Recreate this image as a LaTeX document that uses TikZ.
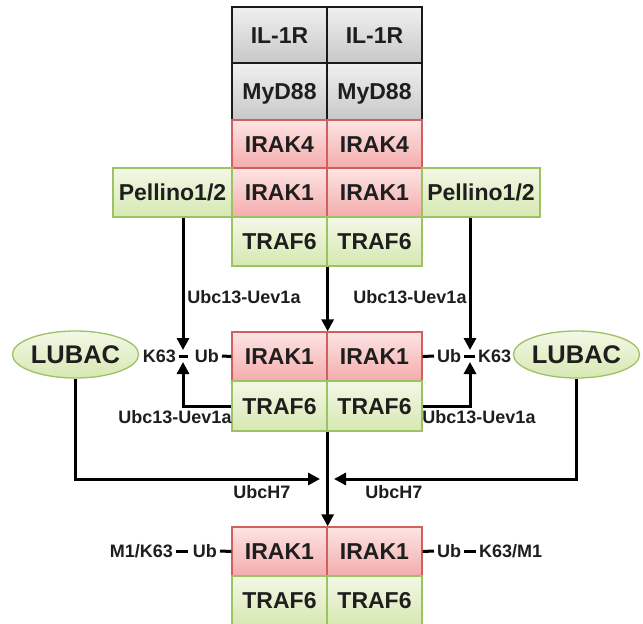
\documentclass[tikz,border=0pt]{standalone}
\usepackage{fontspec}
\setmainfont{Liberation Sans}
\usetikzlibrary{shapes.geometric,arrows.meta}
\definecolor{ink}{HTML}{1E1E1E}
\definecolor{grayedge}{HTML}{1A1A1A}
\definecolor{graytop}{HTML}{F0F0F0}
\definecolor{graybot}{HTML}{C8C8C8}
\definecolor{rededge}{HTML}{D0605E}
\definecolor{redtop}{HTML}{FDE4E4}
\definecolor{redbot}{HTML}{F4ACAC}
\definecolor{greenedge}{HTML}{9DC263}
\definecolor{greentop}{HTML}{F3F8E6}
\definecolor{greenbot}{HTML}{D6E8B2}
\tikzset{
  box/.style={draw, line width=1.3pt, minimum width=95, inner sep=0,
    text height=16.5pt, text depth=0pt, text=ink,
    font=\bfseries\fontsize{23}{25}\selectfont},
  graybox/.style={box, draw=grayedge, top color=graytop, bottom color=graybot},
  redbox/.style={box, draw=rededge, top color=redtop, bottom color=redbot},
  greenbox/.style={box, draw=greenedge, top color=greentop, bottom color=greenbot},
  lubac/.style={ellipse, draw=greenedge, line width=1.3pt, top color=greentop,
    bottom color=greenbot, minimum width=123, minimum height=47, inner sep=0,
    text=ink, font=\bfseries\fontsize{25.5}{27}\selectfont},
  tag/.style={inner ysep=0, inner xsep=3pt, text height=13pt, text depth=0pt,
    text=ink, font=\bfseries\fontsize{18}{20}\selectfont},
  arr/.style={line width=3pt, -{Triangle[length=12pt,width=12pt]}},
  link/.style={line width=3pt},
}
\begin{document}
\begin{tikzpicture}[x=1pt,y=-1pt]
  \useasboundingbox (0,0) rectangle (643,624);
  % Stacks
  \foreach \c/\x in {L/279.5, R/374.5} {
    \node[graybox, minimum height=56] (il\c) at (\x,35) {IL-1R};
    \node[graybox, minimum height=57] (myd\c) at (\x,91.5) {MyD88};
    \node[redbox, minimum height=48] (irakfour\c) at (\x,144) {IRAK4};
    \node[redbox, minimum height=49] (irak\c) at (\x,192.5) {IRAK1};
    \node[greenbox, minimum height=49] (traf\c) at (\x,241.5) {TRAF6};
    \node[redbox, minimum height=49] (mirak\c) at (\x,356.5) {IRAK1};
    \node[greenbox, minimum height=50] (mtraf\c) at (\x,406) {TRAF6};
    \node[redbox, minimum height=49] (birak\c) at (\x,551.5) {IRAK1};
    \node[greenbox, minimum height=49] (btraf\c) at (\x,600.5) {TRAF6};
  }
  % Pellino and LUBAC
  \node[greenbox, minimum width=119, minimum height=49] (pelL) at (172.5,192.5) {Pellino1/2};
  \node[greenbox, minimum width=118, minimum height=49] (pelR) at (481,192.5) {Pellino1/2};
  \node[lubac] (lubL) at (75.5,354.5) {LUBAC};
  \node[lubac] (lubR) at (576.5,354.5) {LUBAC};
  % Ub chains
  \node[tag, anchor=east] (kML) at (179,356) {K63};
  \node[tag, anchor=east] (ubML) at (222,356) {Ub};
  \node[tag, anchor=west] (ubMR) at (434,356) {Ub};
  \node[tag, anchor=west] (kMR) at (475,356) {K63};
  \node[tag, anchor=east] (kBL) at (176,551) {M1/K63};
  \node[tag, anchor=east] (ubBL) at (220,551) {Ub};
  \node[tag, anchor=west] (ubBR) at (434,551) {Ub};
  \node[tag, anchor=west] (kBR) at (476,551) {K63/M1};
  \draw[link, shorten >=4pt] (kML.east) -- (ubML.west);
  \draw[link] (ubML.east) -- (mirakL.west);
  \draw[link] (mirakR.east) -- (ubMR.west);
  \draw[link] (ubMR.east) -- (kMR.west);
  \draw[link, shorten >=2pt] (kBL.east) -- (ubBL.west);
  \draw[link] (ubBL.east) -- (birakL.west);
  \draw[link] (birakR.east) -- (ubBR.west);
  \draw[link] (ubBR.east) -- (kBR.west);
  % Enzyme labels
  \node[tag] (ubcUL) at (244,297) {Ubc13-Uev1a};
  \node[tag] (ubcUR) at (410,297) {Ubc13-Uev1a};
  \node[tag] (ubcLL) at (175,417) {Ubc13-Uev1a};
  \node[tag] (ubcLR) at (479,417) {Ubc13-Uev1a};
  \node[tag] (hL) at (262,492) {UbcH7};
  \node[tag] (hR) at (394,492) {UbcH7};
  % Arrows
  \coordinate (jML) at (183,356);
  \coordinate (jMR) at (470,356);
  \coordinate (jB) at (327,479);
  \draw[arr] (pelL.south -| jML) -- ([yshift=6pt]jML);
  \draw[arr] (pelR.south -| jMR) -- ([yshift=6pt]jMR);
  \draw[arr] (mtrafL.west) -| ([yshift=-6pt]jML);
  \draw[arr] (mtrafR.east) -| ([yshift=-6pt]jMR);
  \draw[arr] (trafL.south east) -- (mirakL.north east);
  \draw[arr] (mtrafL.south east) -- (birakL.north east);
  \draw[arr] (lubL.south) |- ([xshift=-7pt]jB);
  \draw[arr] (lubR.south) |- ([xshift=7pt]jB);
\end{tikzpicture}
\end{document}
